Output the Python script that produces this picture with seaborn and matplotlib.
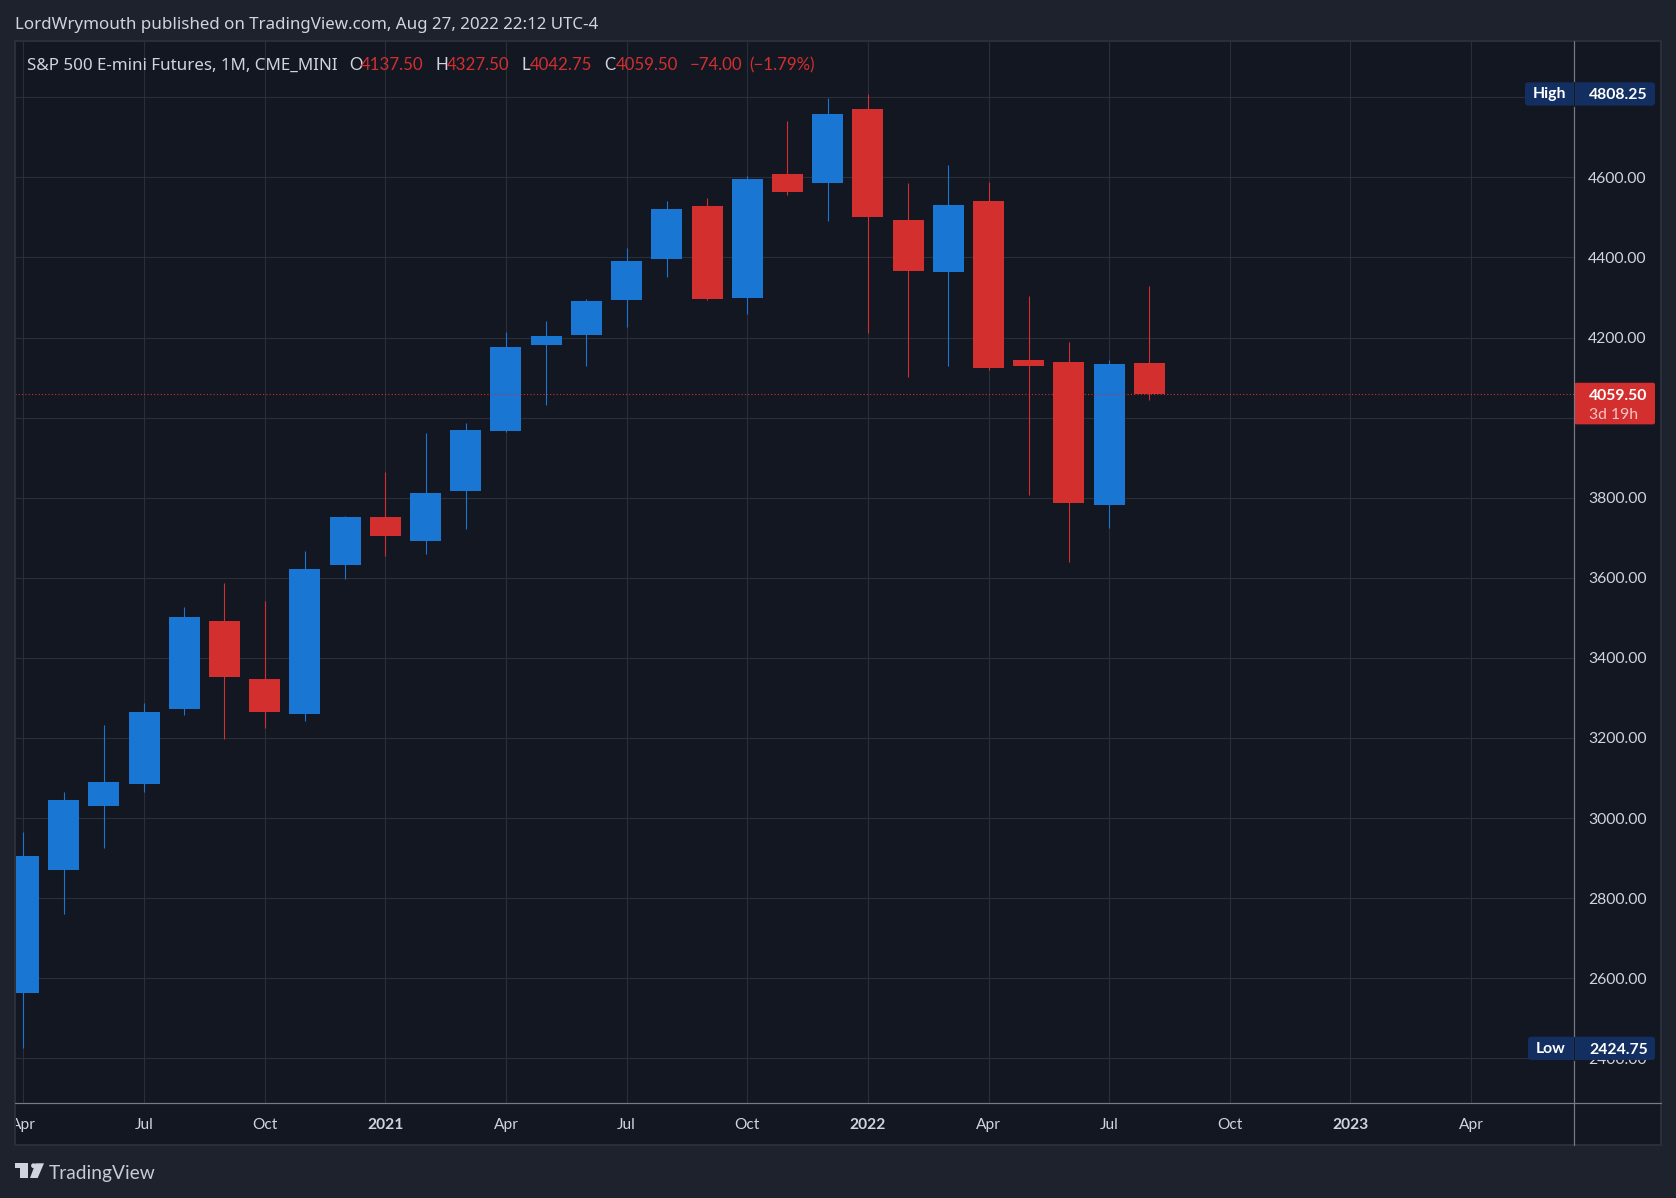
import numpy as np
import pandas as pd
import matplotlib
matplotlib.use("Agg")
import matplotlib.pyplot as plt
from matplotlib.patches import FancyBboxPatch, Rectangle, Polygon, Circle
import seaborn as sns

# monthly candles Apr 2020 .. Aug 2022
months = ["2020-04", "2020-05", "2020-06", "2020-07", "2020-08", "2020-09", "2020-10", "2020-11", "2020-12",
          "2021-01", "2021-02", "2021-03", "2021-04", "2021-05", "2021-06", "2021-07", "2021-08", "2021-09",
          "2021-10", "2021-11", "2021-12", "2022-01", "2022-02", "2022-03", "2022-04", "2022-05", "2022-06",
          "2022-07", "2022-08"]
opens = [2562, 2869, 3029, 3084, 3271, 3493, 3346, 3258.5, 3631.5,
         3751.5, 3691.5, 3816, 3966, 4181, 4206, 4293.5, 4395, 4528,
         4299, 4608, 4586, 4771, 4493.5, 4364, 4541, 4144, 4139,
         3782, 4137.5]
highs = [2966, 3066, 3233.5, 3286, 3526, 3588, 3543, 3668, 3754,
         3864, 3961, 3986, 4213.5, 4241, 4296, 4423, 4542, 4548,
         4603, 4741, 4798, 4808.25, 4586, 4631, 4588, 4304, 4189,
         4144, 4327.5]
lows = [2424.75, 2761, 2924, 3064, 3256, 3198.5, 3226, 3243.5, 3598,
        3654, 3659, 3721.5, 3964, 4031, 4128, 4226, 4350, 4294,
        4259, 4556, 4491, 4211, 4101, 4129, 4119, 3807, 3640,
        3724, 4042.75]
closes = [2904, 3044, 3091, 3263.5, 3501, 3351, 3263.5, 3623, 3751.5,
          3704, 3811, 3969, 4176, 4203.5, 4291, 4391, 4522, 4296,
          4596, 4563, 4758, 4501, 4366, 4531, 4124, 4129, 3787,
          4134, 4059.5]

price_ticks = [2400, 2600, 2800, 3000, 3200, 3400, 3600, 3800, 4000, 4200, 4400, 4600, 4800]
time_ticks = [0, 3, 6, 9, 12, 15, 18, 21, 24, 27, 30, 33, 36]
time_labels = ["Apr", "Jul", "Oct", "2021", "Apr", "Jul", "Oct", "2022", "Apr", "Jul", "Oct", "2023", "Apr"]
high_price = 4808.25
low_price = 2424.75
last_price = 4059.50

W, H = 1676, 1198
BG = "#1e222d"
PANE = "#131722"
GRID = "#2a2e39"
AXIS = "#787b86"
TEXT = "#d1d4dc"
UP = "#1976d2"
DOWN = "#d32f2f"
NAVY = "#132f61"
FONT = "Lato"
PX = 0.72  # one pixel in points at dpi 100

sns.set_theme(style="dark", rc={"font.family": FONT, "axes.edgecolor": GRID})

df = pd.DataFrame({"idx": np.arange(len(months)), "month": months, "open": opens,
                   "high": highs, "low": lows, "close": closes})
df["bottom"] = df[["open", "close"]].min(axis=1)
df["body"] = (df["close"] - df["open"]).abs()
df["rising"] = df["close"] > df["open"]
df["colour"] = np.where(df["rising"], UP, DOWN)

fig = plt.figure(figsize=(W / 100, H / 100), dpi=100, facecolor=BG)


def px_axes(left, top, right, bottom, **kw):
    return fig.add_axes([left / W, 1 - bottom / H, (right - left) / W, (bottom - top) / H], **kw)


# plain background for the whole pane, price scale and time scale included
back = px_axes(0, 0, W, H, zorder=-1)
back.set_xlim(0, W)
back.set_ylim(H, 0)
back.axis("off")
back.add_patch(Rectangle((15, 41), 1645.5, 1104, fc=PANE, ec="none"))

ax = px_axes(15, 41, 1574.3, 1103.3, zorder=1)
ax.set_facecolor(PANE)

ax.vlines(df["idx"], df["low"], df["high"], colors=df["colour"], linewidth=1.1 * PX, zorder=3)
for rising, colour in [(True, UP), (False, DOWN)]:
    part = df[df["rising"] == rising]
    sns.barplot(data=part, x="idx", y="body", bottom=part["bottom"], native_scale=True, width=0.771,
                color=colour, saturation=1, errorbar=None, linewidth=0, zorder=4, ax=ax)

ax.axhline(last_price, color=DOWN, linewidth=1.1 * PX, linestyle=(0, (1, 2)), zorder=5)

ax.set_xlim(-0.209, 38.567)
ax.set_ylim(2287.5, 4940.5)
ax.set_xlabel("")
ax.set_ylabel("")
ax.set_xticks(time_ticks)
ax.set_xticklabels(time_labels)
ax.set_yticks(price_ticks)
ax.set_yticklabels([f"{p:.2f}" for p in price_ticks])
ax.yaxis.tick_right()
ax.grid(True, color=GRID, linewidth=1.1 * PX, zorder=0)
ax.set_axisbelow(True)
ax.tick_params(axis="y", length=0, pad=10, labelsize=11.3, labelcolor=TEXT)
ax.tick_params(axis="x", length=0, pad=10.8, labelsize=11.2, labelcolor=TEXT)
for lab, text in zip(ax.get_xticklabels(), time_labels):
    if text.startswith("20"):
        lab.set_fontweight("bold")
for side in ax.spines.values():
    side.set_visible(False)

# overlay in picture pixels for the labels, borders and logo
top = px_axes(0, 0, W, H, zorder=5)
top.set_xlim(0, W)
top.set_ylim(H, 0)
top.axis("off")
top.patch.set_alpha(0)


def price_y(p):
    return H - ax.transData.transform((0, p))[1]


top.add_patch(Rectangle((0, 0), 14, H, fc=BG, ec="none"))
top.add_patch(Rectangle((15, 41), 1645.5, 1104, fc="none", ec=GRID, lw=2 * PX))
top.plot([15, 1660.5], [1103.3, 1103.3], color=AXIS, lw=1.2 * PX)
top.plot([1574.3, 1574.3], [41, 1145], color=AXIS, lw=1.2 * PX)

# High / Low / last price tags
for label, value, left in [("High", high_price, 1525), ("Low", low_price, 1528)]:
    yc = price_y(value)
    top.add_patch(FancyBboxPatch((left, yc - 11.6), 1655 - left, 23.2, ec="none", fc=NAVY,
                                 boxstyle="round,pad=0,rounding_size=3"))
    top.plot([1573.5, 1573.5], [yc - 11.6, yc + 11.6], color=PANE, lw=1.2 * PX)
    top.text(left + 7.5, yc - 1, label, color="white", fontsize=11.3, fontweight="bold", va="center_baseline")
    top.text(1589, yc, f"{value:.2f}", color="white", fontsize=11.3, fontweight="bold", va="center_baseline")

yc = price_y(last_price)
top.add_patch(FancyBboxPatch((1574.3, yc - 11), 80.7, 41.6, ec="none", fc=DOWN,
                             boxstyle="round,pad=0,rounding_size=2"))
top.text(1589, yc + 0.5, f"{last_price:.2f}", color="white", fontsize=11.3, fontweight="bold", va="center_baseline")
top.text(1589, yc + 20, "3d 19h", color="#f4c4c4", fontsize=11.3, va="center_baseline")

# header and legend line
top.text(15, 23, "LordWrymouth published on TradingView.com, Aug 27, 2022 22:12 UTC-4",
         color=TEXT, fontsize=12.2, family="Noto Sans", va="center_baseline")
legend_y = 64
top.text(27, legend_y, "S&P 500 E-mini Futures, 1M, CME_MINI", color=TEXT, fontsize=12.2, family="Noto Sans",
         va="center_baseline")
for x, s, col in [(349, "O", TEXT), (361, "4137.50", DOWN), (435, "H", TEXT), (447, "4327.50", DOWN),
                  (521.5, "L", TEXT), (530, "4042.75", DOWN), (604.5, "C", TEXT), (615.5, "4059.50", DOWN),
                  (689.5, "\u221274.00", DOWN), (748.8, "(\u22121.79%)", DOWN)]:
    top.text(x, legend_y, s, color=col, fontsize=12.2, va="center_baseline")

# TradingView logo
logo = "#d1d4dc"
top.add_patch(Polygon([(15, 1163.3), (28.3, 1163.3), (28.3, 1178), (20, 1178), (20, 1168), (15, 1168)], fc=logo, ec="none"))
top.add_patch(Circle((33.5, 1165.7), 2.4, fc=logo, ec="none"))
top.add_patch(Polygon([(35.5, 1163.3), (44, 1163.3), (37.7, 1178), (30, 1178)], fc=logo, ec="none"))
top.text(49, 1172.5, "TradingView", color="#c8cbd3", fontsize=13.8, va="center_baseline")

fig.savefig("out.png", dpi=100, facecolor=BG)
